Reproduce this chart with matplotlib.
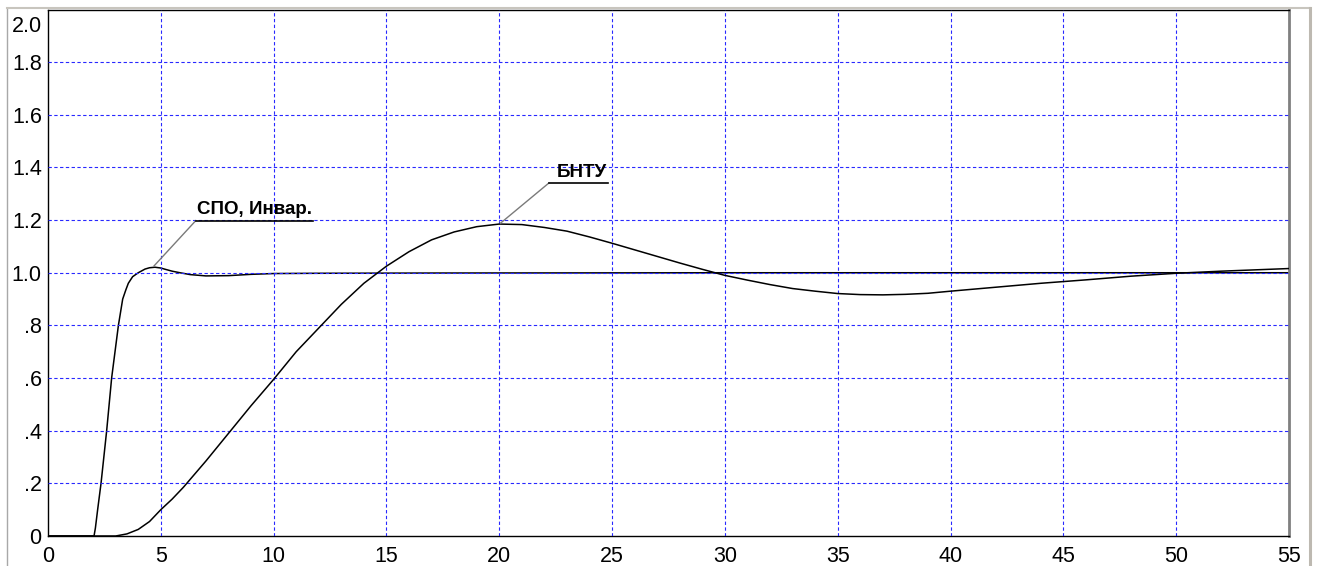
import matplotlib.pyplot as plt
from matplotlib.lines import Line2D

plt.rcParams['font.family'] = ['Liberation Sans', 'DejaVu Sans']

# переходная характеристика СПО / инвариантной системы
t_fast = [0, 2.04, 2.1, 2.2, 2.35, 2.6, 2.82, 3.0, 3.12, 3.31, 3.45, 3.56,
          3.75, 4.0, 4.3, 4.5, 4.74, 5.0, 5.2, 5.5, 5.85, 6.3, 7.0, 8.0, 9.0,
          10.0, 12.0, 17.3, 30.0, 55.0]
h_fast = [0, 0, 0.03, 0.10, 0.20, 0.40, 0.60, 0.72, 0.80, 0.90, 0.935, 0.96,
          0.985, 1.0, 1.014, 1.019, 1.021, 1.018, 1.013, 1.006, 1.0, 0.993,
          0.988, 0.989, 0.994, 0.997, 0.998, 0.999, 1.0, 1.0]

# переходная характеристика БНТУ
t_slow = [0, 3.0, 3.5, 4, 4.5, 5, 5.5, 6, 7, 8, 9, 10, 11, 12, 13, 14, 15, 16,
          17, 18, 19, 20, 21, 22, 23, 24, 25, 26, 27, 28, 29, 30, 31, 32, 33,
          34, 35, 36, 37, 38, 39, 40, 42, 44, 46, 48, 50, 52, 55]
h_slow = [0, 0, 0.008, 0.025, 0.055, 0.10, 0.14, 0.185, 0.285, 0.39, 0.495,
          0.595, 0.70, 0.79, 0.88, 0.96, 1.025, 1.08, 1.125, 1.155, 1.175,
          1.185, 1.183, 1.172, 1.158, 1.136, 1.112, 1.087, 1.062, 1.037, 1.013,
          0.99, 0.972, 0.955, 0.94, 0.93, 0.921, 0.917, 0.916, 0.918, 0.922,
          0.930, 0.945, 0.960, 0.973, 0.987, 0.998, 1.006, 1.016]

x_ticks = list(range(0, 56, 5))
y_ticks = [0, 0.2, 0.4, 0.6, 0.8, 1.0, 1.2, 1.4, 1.6, 1.8, 2.0]
y_labels = ['0', '.2', '.4', '.6', '.8', '1.0', '1.2', '1.4', '1.6', '1.8', '2.0']

W, H = 1317, 566
fig = plt.figure(figsize=(W / 100, H / 100), dpi=100)
ax = fig.add_axes([48 / W, 1 - 536 / H, (1289 - 48) / W, (536 - 9.5) / H])

ax.set_xlim(0, 55)
ax.set_ylim(0, 2.0)
ax.set_xticks(x_ticks)
ax.set_yticks(y_ticks)
# верхнюю подпись рисуем отдельно, чуть ниже края
ax.set_yticklabels(y_labels[:-1] + [''])
ax.tick_params(length=0, labelsize=15.5, colors='black')
ax.tick_params(axis='y', pad=4.5)
ax.tick_params(axis='x', pad=7)
ax.annotate(y_labels[-1], xy=(0, y_ticks[-1]),
            xycoords=('axes fraction', 'data'), xytext=(-4.5, -4.5),
            textcoords='offset points', ha='right', va='top', fontsize=15.5)

# сетка
grid_kw = dict(color='#2828ff', lw=0.8, ls=(0, (3, 2.2)), zorder=3)
for xv in x_ticks[1:-1]:
    ax.axvline(xv, **grid_kw)
for yv in y_ticks[1:-1]:
    ax.axhline(yv, **grid_kw)

ax.plot(t_fast, h_fast, color='black', lw=1.1, zorder=2)
ax.plot(t_slow, h_slow, color='black', lw=1.1, zorder=4)

# подписи кривых с выносками
ax.plot([4.7, 6.55], [1.026, 1.198], color='#7a7a7a', lw=1, zorder=5)
ax.plot([6.55, 11.75], [1.198, 1.198], color='black', lw=1.2, zorder=5)
ax.text(6.6, 1.222, 'СПО, Инвар.', fontsize=13.5, fontweight='bold',
        ha='left', va='baseline', zorder=6)

ax.plot([20.05, 22.2], [1.188, 1.341], color='#7a7a7a', lw=1, zorder=5)
ax.plot([22.2, 24.8], [1.341, 1.341], color='black', lw=1.2, zorder=5)
ax.text(22.55, 1.362, 'БНТУ', fontsize=13.5, fontweight='bold',
        ha='left', va='baseline', zorder=6)

for s in ['left', 'bottom', 'top']:
    ax.spines[s].set_color('black')
    ax.spines[s].set_linewidth(1.0)
ax.spines['right'].set_color('#808080')
ax.spines['right'].set_linewidth(2.0)


# рамка окна
def px_line(x0, y0, x1, y1, color, lw):
    fig.add_artist(Line2D([x0 / W, x1 / W], [1 - y0 / H, 1 - y1 / H],
                          transform=fig.transFigure, color=color, lw=lw))


px_line(7, 8, 7, H, '#a8a8a8', 1.0)
px_line(7, 8, 1310, 8, '#c8c5be', 1.5)
px_line(1309.5, 8, 1309.5, H, '#bdb9b1', 2.2)

fig.savefig('out.png', dpi=100)
